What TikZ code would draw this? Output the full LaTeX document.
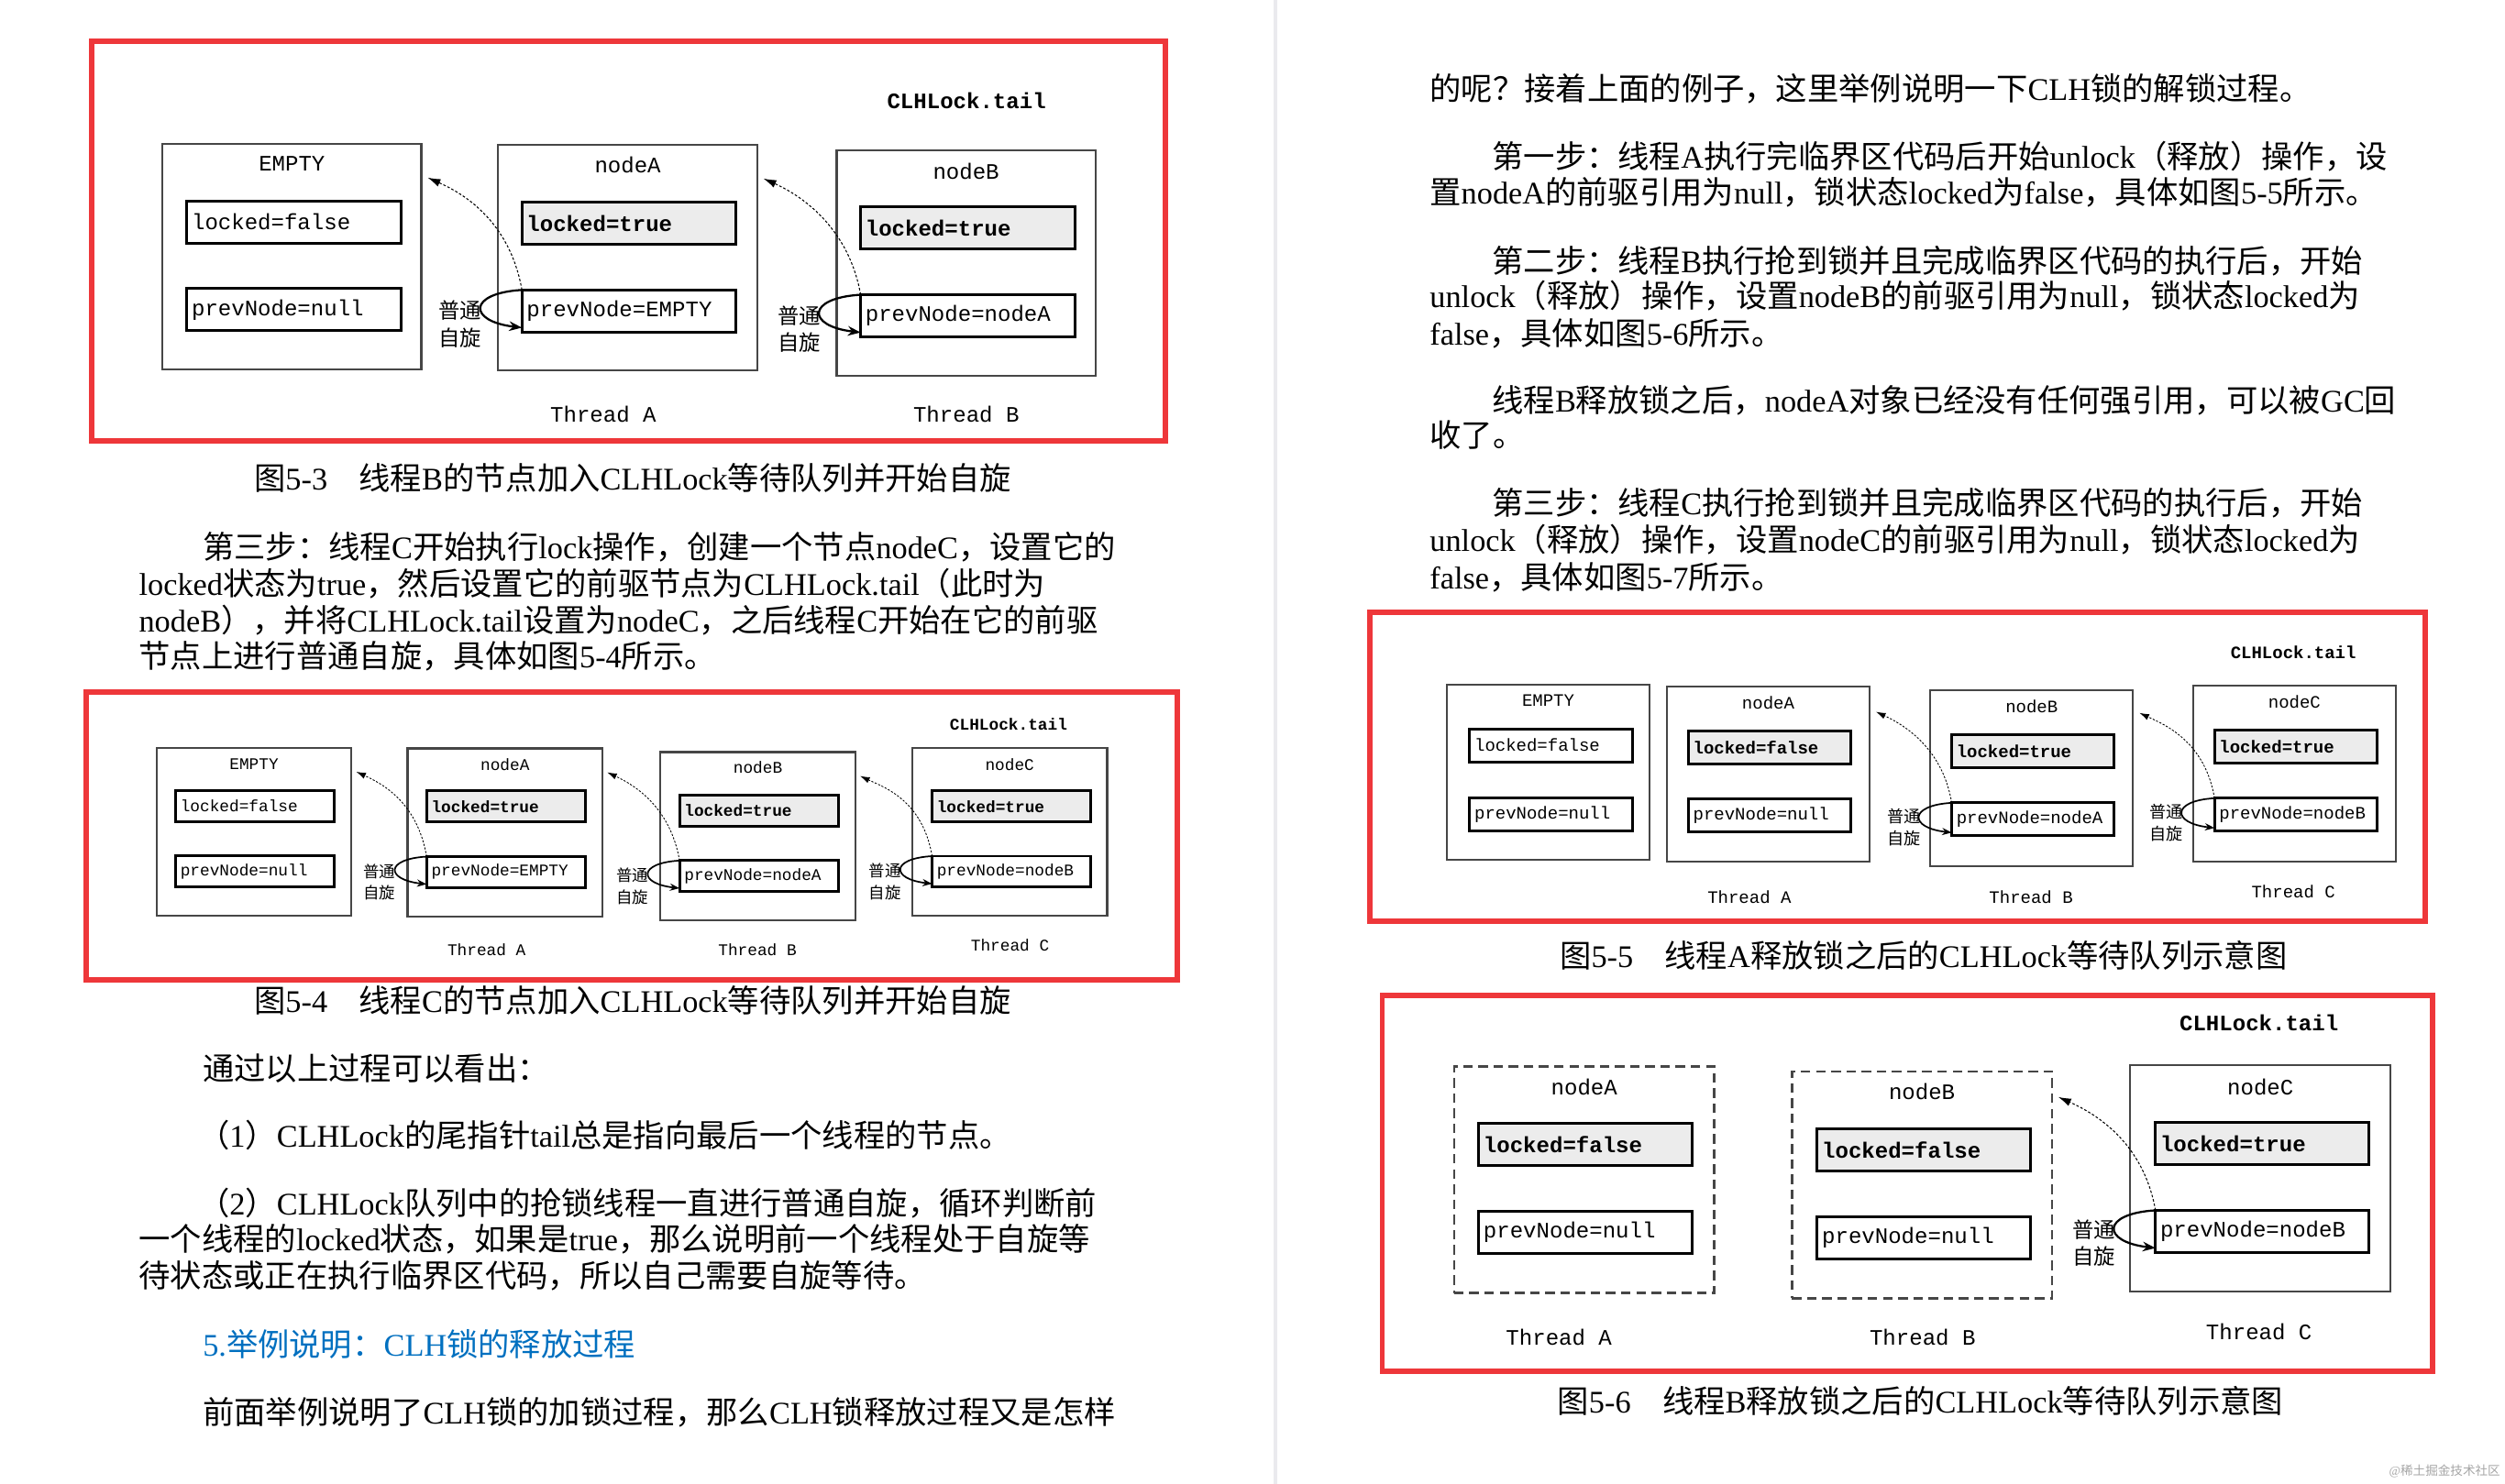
\documentclass[tikz,border=0pt]{standalone}
\usepackage{fontspec}
\setmainfont{Liberation Serif}
\setmonofont{Liberation Mono}
\newfontfamily\cjk{Noto Sans CJK SC}
\usepackage{tikz}
\usetikzlibrary{calc,arrows.meta}
\definecolor{framered}{RGB}{238,55,58}
\definecolor{boxgray}{RGB}{70,70,70}
\definecolor{fieldgray}{RGB}{236,236,236}
\definecolor{headblue}{RGB}{0,112,192}
\definecolor{rulegray}{RGB}{234,234,238}

% Chinese characters switch to the CJK font by themselves
\XeTeXinterchartokenstate=1
\newXeTeXintercharclass\cjkclass
\makeatletter
\count@="3000
\loop\XeTeXcharclass\count@=\cjkclass\ifnum\count@<"303F \advance\count@\@ne\repeat
\count@="4E00
\loop\XeTeXcharclass\count@=\cjkclass\ifnum\count@<"9FFF \advance\count@\@ne\repeat
\count@="FF00
\loop\XeTeXcharclass\count@=\cjkclass\ifnum\count@<"FFEF \advance\count@\@ne\repeat
\makeatother
\XeTeXinterchartoks 0 \cjkclass={\begingroup\cjk}
\XeTeXinterchartoks 4095 \cjkclass={\begingroup\cjk}
\XeTeXinterchartoks \cjkclass 0={\endgroup}
\XeTeXinterchartoks \cjkclass 4095={\endgroup}

\begin{document}
\begin{tikzpicture}[x=1pt, y=-1pt,
  every node/.style={inner sep=0pt, outer sep=0pt},
  body/.style={anchor=base west, font=\fontsize{19.7pt}{23pt}\selectfont},
  figcap/.style={anchor=base, font=\fontsize{19.7pt}{23pt}\selectfont},
  redframe/.style={draw=framered, line width=3.4pt},
  obj/.style 2 args={draw=boxgray, line width=1.2pt, fill=white, minimum width=#1, minimum height=#2},
  gone/.style={dash pattern=on 6pt off 3.5pt, line width=1.6pt},
  fld/.style 2 args={draw, line width=1.7pt, fill=white, text width=#1, minimum height=#2, inner xsep=3pt, align=left},
  lk/.style={fill=fieldgray, execute at begin node=\bfseries},
  tailtxt/.style={execute at begin node=\bfseries},
  zx/.style 2 args={align=center, font=\fontsize{#1}{#2}\selectfont},
  spinarr/.style={line width=1.3pt, -{Stealth[length=8pt, width=6pt]}},
  backarr/.style={line width=0.6pt, dash pattern=on 1.6pt off 1.2pt, -{Latex[length=8pt, width=5pt]}}
]
  \fill[white] (0,0) rectangle (1568,929);
  \useasboundingbox (0,0) rectangle (1568,929);
  \draw[rulegray, line width=2.3pt] (798.4,0) -- (798.4,929);

  % left column text
  \node[figcap] (cap3) at (396,306.5) {图5-3　线程B的节点加入CLHLock等待队列并开始自旋};
  \node[body] (p1) at (127,350) {第三步：线程C开始执行lock操作，创建一个节点nodeC，设置它的};
  \node[body] (p2) at (87,373) {locked状态为true，然后设置它的前驱节点为CLHLock.tail（此时为};
  \node[body] (p3) at (87,396) {nodeB），并将CLHLock.tail设置为nodeC，之后线程C开始在它的前驱};
  \node[body] (p4) at (87,418) {节点上进行普通自旋，具体如图5-4所示。};
  \node[figcap] (cap4) at (396,634) {图5-4　线程C的节点加入CLHLock等待队列并开始自旋};
  \node[body] (p5) at (127,676.5) {通过以上过程可以看出：};
  \node[body] (p6) at (124,718.5) {（1）CLHLock的尾指针tail总是指向最后一个线程的节点。};
  \node[body] (p7) at (124,761) {（2）CLHLock队列中的抢锁线程一直进行普通自旋，循环判断前};
  \node[body] (p8) at (87,783) {一个线程的locked状态，如果是true，那么说明前一个线程处于自旋等};
  \node[body] (p9) at (87,806) {待状态或正在执行临界区代码，所以自己需要自旋等待。};
  \node[body, text=headblue] (h5) at (127,849) {5.举例说明：CLH锁的释放过程};
  \node[body] (p10) at (127,891.5) {前面举例说明了CLH锁的加锁过程，那么CLH锁释放过程又是怎样};

  % right column text
  \node[body] (q1) at (895,63) {的呢？接着上面的例子，这里举例说明一下CLH锁的解锁过程。};
  \node[body] (q2) at (934,105.5) {第一步：线程A执行完临界区代码后开始unlock（释放）操作，设};
  \node[body] (q3) at (895,127.5) {置nodeA的前驱引用为null，锁状态locked为false，具体如图5-5所示。};
  \node[body] (q4) at (934,170.5) {第二步：线程B执行抢到锁并且完成临界区代码的执行后，开始};
  \node[body] (q5) at (895,192.5) {unlock（释放）操作，设置nodeB的前驱引用为null，锁状态locked为};
  \node[body] (q6) at (895,216) {false，具体如图5-6所示。};
  \node[body] (q7) at (934,258) {线程B释放锁之后，nodeA对象已经没有任何强引用，可以被GC回};
  \node[body] (q8) at (895,280) {收了。};
  \node[body] (q9) at (934,322.5) {第三步：线程C执行抢到锁并且完成临界区代码的执行后，开始};
  \node[body] (q10) at (895,345.5) {unlock（释放）操作，设置nodeC的前驱引用为null，锁状态locked为};
  \node[body] (q11) at (895,368.5) {false，具体如图5-7所示。};
  \node[figcap] (cap5) at (1204,605.5) {图5-5　线程A释放锁之后的CLHLock等待队列示意图};
  \node[figcap] (cap6) at (1202,884.5) {图5-6　线程B释放锁之后的CLHLock等待队列示意图};
  \node[anchor=base east, font=\fontsize{7.8pt}{9pt}\selectfont, text=black!35] (wm) at (1565,924) {@稀土掘金技术社区};

  % figure 5-3
  \draw[redframe] (57.5,25.8) rectangle (729.5,275.9);
  \begin{scope}[font=\fontsize{13.8pt}{16pt}\selectfont\ttfamily,
      ob/.style={obj={162pt}{141pt}}, fl/.style={fld={128pt}{26.3pt}}]
    \node[tailtxt] (tl3) at (605,63) {CLHLock.tail};
    \node[ob] (e3) at (182.7,160.7) {};
    \node (e3n) at (182.7,102.5) {EMPTY};
    \node[fl] (e3l) at (184,139.1) {locked=false};
    \node[fl] (e3p) at (184,193.9) {prevNode=null};
    \node[ob] (a3) at (392.9,161.3) {};
    \node (a3n) at (392.9,103.3) {nodeA};
    \node[fl, lk] (a3l) at (393.7,139.8) {locked=true};
    \node[fl] (a3p) at (393.7,194.7) {prevNode=EMPTY};
    \node[ob] (b3) at (604.7,164.7) {};
    \node (b3n) at (604.7,107.1) {nodeB};
    \node[fl, lk] (b3l) at (605.7,142.8) {locked=true};
    \node[fl] (b3p) at (605.7,197.7) {prevNode=nodeA};
    \node (ta3) at (377.6,259.6) {Thread A};
    \node (tb3) at (604.8,259.6) {Thread B};
    \node[zx={13.4pt}{17pt}] (za3) at ($(a3p.north west)+(-38.6,21.5)$) {普通\\自旋};
    \node[zx={13.4pt}{17pt}] (zb3) at ($(b3p.north west)+(-38.6,21.5)$) {普通\\自旋};
    \draw[spinarr] (a3p.north west) .. controls +(-34,2) and +(-34,-4) .. ($(a3p.south west)+(0,-2.7)$);
    \draw[spinarr] (b3p.north west) .. controls +(-34,2) and +(-34,-4) .. ($(b3p.south west)+(0,-2.7)$);
    \draw[backarr] (a3p.north west) .. controls +(-8,-45) and +(20,9) .. ($(e3.north east)+(4,21)$);
    \draw[backarr] (b3p.north west) .. controls +(-8,-45) and +(20,9) .. ($(a3.north east)+(4,21)$);
  \end{scope}

  % figure 5-4
  \draw[redframe] (53.8,433.3) rectangle (736.9,613.7);
  \begin{scope}[font=\fontsize{10.2pt}{12pt}\selectfont\ttfamily,
      ob/.style={obj={122pt}{105.4pt}}, fl/.style={fld={93.3pt}{19.3pt}},
      spinarr/.style={line width=1pt, -{Stealth[length=6pt, width=4.5pt]}},
      backarr/.style={line width=0.5pt, dash pattern=on 1.3pt off 1pt, -{Latex[length=6pt, width=4pt]}}]
    \node[tailtxt] (tl4) at (631.3,453.4) {CLHLock.tail};
    \node[ob] (e4) at (159,520.9) {};
    \node (e4n) at (159,478.5) {EMPTY};
    \node[fl] (e4l) at (159.6,504.7) {locked=false};
    \node[fl] (e4p) at (159.6,545.6) {prevNode=null};
    \node[ob] (a4) at (316.1,521.3) {};
    \node (a4n) at (316.1,479) {nodeA};
    \node[fl, lk] (a4l) at (316.7,504.9) {locked=true};
    \node[fl] (a4p) at (316.7,546) {prevNode=EMPTY};
    \node[ob] (b4) at (474.4,523.6) {};
    \node (b4n) at (474.4,480.6) {nodeB};
    \node[fl, lk] (b4l) at (475,507.5) {locked=true};
    \node[fl] (b4p) at (475,548.5) {prevNode=nodeA};
    \node[ob] (c4) at (632,520.9) {};
    \node (c4n) at (632,478.5) {nodeC};
    \node[fl, lk] (c4l) at (633.1,504.9) {locked=true};
    \node[fl] (c4p) at (633.1,545.7) {prevNode=nodeB};
    \node (ta4) at (304.6,594.6) {Thread A};
    \node (tb4) at (474.1,594.6) {Thread B};
    \node (tc4) at (632.2,591.7) {Thread C};
    \node[zx={10pt}{13.5pt}] (za4) at ($(a4p.north west)+(-29.5,16)$) {普通\\自旋};
    \node[zx={10pt}{13.5pt}] (zb4) at ($(b4p.north west)+(-29.5,16)$) {普通\\自旋};
    \node[zx={10pt}{13.5pt}] (zc4) at ($(c4p.north west)+(-29.5,16)$) {普通\\自旋};
    \draw[spinarr] (a4p.north west) .. controls +(-26,1.5) and +(-26,-3) .. ($(a4p.south west)+(0,-2)$);
    \draw[spinarr] (b4p.north west) .. controls +(-26,1.5) and +(-26,-3) .. ($(b4p.south west)+(0,-2)$);
    \draw[spinarr] (c4p.north west) .. controls +(-26,1.5) and +(-26,-3) .. ($(c4p.south west)+(0,-2)$);
    \draw[backarr] (a4p.north west) .. controls +(-6,-35) and +(15,7) .. ($(e4.north east)+(3,15)$);
    \draw[backarr] (b4p.north west) .. controls +(-6,-35) and +(15,7) .. ($(a4.north east)+(3,15)$);
    \draw[backarr] (c4p.north west) .. controls +(-6,-35) and +(15,7) .. ($(b4.north east)+(3,15)$);
  \end{scope}

  % figure 5-5
  \draw[redframe] (857.3,383.6) rectangle (1517.9,576.8);
  \begin{scope}[font=\fontsize{10.9pt}{13pt}\selectfont\ttfamily,
      ob/.style={obj={127pt}{110pt}}, fl/.style={fld={95.7pt}{20.6pt}},
      spinarr/.style={line width=1pt, -{Stealth[length=6pt, width=4.5pt]}},
      backarr/.style={line width=0.5pt, dash pattern=on 1.3pt off 1pt, -{Latex[length=6pt, width=4pt]}}]
    \node[tailtxt] (tl5) at (1435.5,408.5) {CLHLock.tail};
    \node[ob] (e5) at (969.1,483.6) {};
    \node (e5n) at (969.1,438.7) {EMPTY};
    \node[fl] (e5l) at (970.8,466.7) {locked=false};
    \node[fl] (e5p) at (970.8,509.8) {prevNode=null};
    \node[ob] (a5) at (1106.8,484.7) {};
    \node (a5n) at (1106.8,440) {nodeA};
    \node[fl, lk] (a5l) at (1107.7,467.8) {locked=false};
    \node[fl] (a5p) at (1107.7,510.7) {prevNode=null};
    \node[ob] (b5) at (1271.7,487.4) {};
    \node (b5n) at (1271.7,442.5) {nodeB};
    \node[fl, lk] (b5l) at (1272.5,470.2) {locked=true};
    \node[fl] (b5p) at (1272.5,513) {prevNode=nodeA};
    \node[ob] (c5) at (1436.2,484.3) {};
    \node (c5n) at (1436.2,439.6) {nodeC};
    \node[fl, lk] (c5l) at (1437,467.4) {locked=true};
    \node[fl] (c5p) at (1437,510.1) {prevNode=nodeB};
    \node (ta5) at (1095,561.5) {Thread A};
    \node (tb5) at (1271.3,561.5) {Thread B};
    \node (tc5) at (1435.5,558.3) {Thread C};
    \node[zx={10.4pt}{14pt}] (zb5) at ($(b5p.north west)+(-30,15.5)$) {普通\\自旋};
    \node[zx={10.4pt}{14pt}] (zc5) at ($(c5p.north west)+(-30,15.5)$) {普通\\自旋};
    \draw[spinarr] (b5p.north west) .. controls +(-27,1.5) and +(-27,-3) .. ($(b5p.south west)+(0,-2)$);
    \draw[spinarr] (c5p.north west) .. controls +(-27,1.5) and +(-27,-3) .. ($(c5p.south west)+(0,-2)$);
    \draw[backarr] (b5p.north west) .. controls +(-6,-36) and +(15,7) .. ($(a5.north east)+(4,16)$);
    \draw[backarr] (c5p.north west) .. controls +(-6,-36) and +(15,7) .. ($(b5.north east)+(4,14)$);
  \end{scope}

  % figure 5-6
  \draw[redframe] (865.2,623.3) rectangle (1522.5,858.6);
  \begin{scope}[font=\fontsize{13.8pt}{16pt}\selectfont\ttfamily,
      ob/.style={obj={162.8pt}{142pt}}, fl/.style={fld={127.6pt}{26.3pt}}]
    \node[tailtxt] (tl6) at (1414,640.5) {CLHLock.tail};
    \node[ob, gone] (a6) at (991.6,738.7) {};
    \node (a6n) at (991.6,680.7) {nodeA};
    \node[fl, lk] (a6l) at (992.4,716.7) {locked=false};
    \node[fl] (a6p) at (992.4,771.7) {prevNode=null};
    \node[ob, gone] (b6) at (1203,741.9) {};
    \node (b6n) at (1203,683.6) {nodeB};
    \node[fl, lk] (b6l) at (1204.3,720) {locked=false};
    \node[fl] (b6p) at (1204.3,775) {prevNode=null};
    \node[ob] (c6) at (1414.9,737.8) {};
    \node (c6n) at (1414.9,680.7) {nodeC};
    \node[fl, lk] (c6l) at (1416,716.2) {locked=true};
    \node[fl] (c6p) at (1416,771) {prevNode=nodeB};
    \node (ta6) at (975.8,837.6) {Thread A};
    \node (tb6) at (1203.4,837.6) {Thread B};
    \node (tc6) at (1414,833.8) {Thread C};
    \node[zx={13.4pt}{17pt}] (zc6) at ($(c6p.north west)+(-38.6,20.5)$) {普通\\自旋};
    \draw[spinarr] (c6p.north west) .. controls +(-34,2) and +(-34,-4) .. ($(c6p.south west)+(0,-2.7)$);
    \draw[backarr] (c6p.north west) .. controls +(-8,-45) and +(20,9) .. ($(b6.north east)+(4,16)$);
  \end{scope}
\end{tikzpicture}
\end{document}
